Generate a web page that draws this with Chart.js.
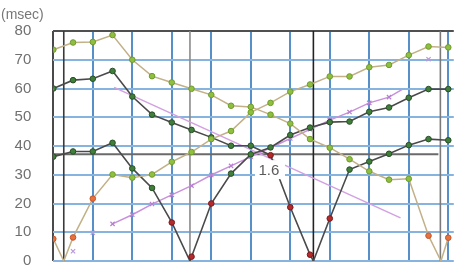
<!DOCTYPE html>
<html><head><meta charset="utf-8">
<script src="https://cdn.jsdelivr.net/npm/chart.js@4/dist/chart.umd.min.js"></script>
<style>
html,body{margin:0;padding:0;overflow:hidden;background:#fff;width:459px;height:277px}
#wrap{position:absolute;left:0;top:0;width:459px;height:292px}
</style>
</head><body><div id="wrap"><canvas id="c" width="459" height="292"></canvas></div>
<script>
// ---- data (x = sample index, y = msec) ----
const unitLabel = '(msec)';
const noteLabel = '1.6';
const noteAt = [10.92, 31.6];

const yTickValues = [0, 10, 20, 30, 40, 50, 60, 70, 80];

// olive series falling (ends with V to zero)
const aX = [0,1,2,3,4,5,6,7,8,9,10,11,12,13,14,15,16,17,18,19,19.63,20];
const aY = [73.5,76.0,76.2,78.6,70.0,64.3,62.1,59.9,57.8,54.0,53.6,50.9,47.8,42.4,39.4,35.4,31.2,28.3,28.6,8.8,0,8.1];
// olive series rising (starts with V to zero)
const bX = [0,0.53,1,2,3,4,5,6,7,8,9,10,11,12,13,14,15,16,17,18,19,20];
const bY = [7.7,0,8.2,21.7,30.1,29.0,30.1,34.5,37.9,42.4,45.2,51.7,55.0,58.9,61.4,64.2,64.2,67.4,68.2,71.6,74.6,74.3];
// dark series starting at 60
const cX = [0,1,2,3,4,5,6,7,8,9,10,11,12,13,13.17,14,15,16,17,18,19,20];
const cY = [60.0,62.9,63.4,66.1,57.2,50.9,48.2,45.6,43.0,40.1,40.1,36.8,18.7,2.2,0,14.8,31.8,34.6,37.3,40.3,42.4,42.0];
// dark series starting at 36
const dX = [0,1,2,3,4,5,6,6.92,7,8,9,10,11,12,13,14,15,16,17,18,19,20];
const dY = [36.3,38.1,38.1,41.1,32.2,25.4,13.4,0,1.5,20.0,30.4,37.1,39.5,43.8,46.4,48.3,48.5,51.9,53.4,56.8,59.8,59.8];
// purple trend rising (with x markers)
const puX = [3,4,5,6,7,8,9,10,11,12,13,14,15,16,17,17.67];
const puY = [12.9,16.1,19.8,23.0,26.2,29.9,33.1,36.3,39.4,42.6,45.8,49.0,51.8,55.0,57.0,59.7];
// purple trend falling
const pdX = [3.08, 17.58];
const pdY = [60.4, 15.0];
// stray purple markers
const pxX = [1, 2, 19];
const pxY = [3.4, 9.8, 70.2];

// reference lines
const zeroCross = [0.53, 6.92, 13.17, 19.6];
const refLevel = 37.1;
const refLevelEnd = 19.5;

// styling
const cRed = [11,12,13,15];   // data positions drawn red in series c
const dRed = [6,8,9];         // data positions drawn red in series d
const OL_FILL = '#8fbf3e', OL_BORDER = '#6f9a2c', OR_FILL = '#e8713c', OR_BORDER = '#c2552a';
const DG_FILL = '#3f7f3a', DG_BORDER = '#2a4d28', RD_FILL = '#b52a2a', RD_BORDER = '#7a1818';

function pts(xs, ys){ return xs.map((x,i)=>({x:x, y:ys[i]})); }
function oliveColors(ys, border){ return ys.map(v => v < 25 ? (border?OR_BORDER:OR_FILL) : (border?OL_BORDER:OL_FILL)); }
function darkColors(n, red, border){ return Array.from({length:n},(_,i)=> red.includes(i) ? (border?RD_BORDER:RD_FILL) : (border?DG_BORDER:DG_FILL)); }
function radii(ys){ return ys.map(v => v === 0 ? 0 : 2.8); }

const refPlugin = {
  id:'refs',
  beforeDatasetsDraw(chart){
    const {ctx, scales:{x,y}} = chart;
    ctx.save();
    ctx.strokeStyle = '#6a6a6a'; ctx.lineWidth = 2;
    ctx.beginPath(); ctx.moveTo(x.getPixelForValue(0), y.getPixelForValue(refLevel));
    ctx.lineTo(x.getPixelForValue(refLevelEnd), y.getPixelForValue(refLevel)); ctx.stroke();
    const cols = ['#3a3a3a','#8a8a8a','#222','#7a7a7a'];
    zeroCross.forEach((v,i)=>{
      ctx.strokeStyle = cols[i]; ctx.lineWidth = 1.6;
      ctx.beginPath(); ctx.moveTo(x.getPixelForValue(v), y.getPixelForValue(80));
      ctx.lineTo(x.getPixelForValue(v), y.getPixelForValue(0)); ctx.stroke();
    });
    ctx.restore();
  },
  afterDraw(chart){
    const {ctx, scales:{x,y}} = chart;
    ctx.save();
    ctx.font = '14px "Liberation Sans", Arial, sans-serif';
    ctx.fillStyle = '#777'; ctx.textBaseline = 'alphabetic'; ctx.textAlign = 'left';
    ctx.fillText(unitLabel, 1, 19);
    const px = x.getPixelForValue(noteAt[0]), py = y.getPixelForValue(noteAt[1]);
    ctx.fillStyle = '#fff'; ctx.fillRect(px-14, py-10, 30, 19);
    ctx.font = '15px "Liberation Sans", Arial, sans-serif';
    ctx.fillStyle = '#5a5a5a'; ctx.textAlign = 'center'; ctx.textBaseline = 'middle';
    ctx.fillText(noteLabel, px, py+1);
    ctx.restore();
  }
};

new Chart(document.getElementById('c'), {
  type:'line',
  data:{ datasets:[
    {data:pts(aX,aY), borderColor:'#c2b087', borderWidth:1.5, pointBackgroundColor:oliveColors(aY), pointBorderColor:oliveColors(aY,true), pointRadius:radii(aY), pointBorderWidth:1, tension:0},
    {data:pts(bX,bY), borderColor:'#c2b087', borderWidth:1.5, pointBackgroundColor:oliveColors(bY), pointBorderColor:oliveColors(bY,true), pointRadius:radii(bY), pointBorderWidth:1, tension:0},
    {data:pts(cX,cY), borderColor:'#4a4a4a', borderWidth:1.6, pointBackgroundColor:darkColors(cY.length,cRed), pointBorderColor:darkColors(cY.length,cRed,true), pointRadius:radii(cY), pointBorderWidth:1, tension:0},
    {data:pts(dX,dY), borderColor:'#4a4a4a', borderWidth:1.6, pointBackgroundColor:darkColors(dY.length,dRed), pointBorderColor:darkColors(dY.length,dRed,true), pointRadius:radii(dY), pointBorderWidth:1, tension:0},
    {data:pts(puX,puY), borderColor:'#c991dc', borderWidth:1.5, pointStyle:'crossRot', pointBorderColor:'#b77fd0', pointRadius:puY.map((v,i)=> i===puY.length-1?0:3), pointBorderWidth:1.2, tension:0},
    {data:pts(pdX,pdY), borderColor:'#d3a0e2', borderWidth:1.5, pointRadius:0, tension:0},
    {data:pts(pxX,pxY), showLine:false, pointStyle:'crossRot', pointBorderColor:'#b89ad8', pointRadius:3, pointBorderWidth:1.2}
  ]},
  options:{
    responsive:false, animation:false, devicePixelRatio:1,
    layout:{padding:{top:27.7, bottom:13.3, left:0, right:0}},
    plugins:{legend:{display:false}, tooltip:{enabled:false}},
    scales:{
      x:{type:'linear', min:0, max:20.28,
        afterBuildTicks(s){ s.ticks = [0,2,4,6,8,10,12,14,16,18,20].map(v=>({value:v})); },
        afterFit(s){ s.height = 0; },
        ticks:{display:false},
        border:{display:false},
        grid:{drawTicks:false, lineWidth:2, color:(c)=> c.tick && c.tick.value===0 ? '#4a4a4a' : '#5790c9'}
      },
      y:{type:'linear', min:0, max:80,
        afterBuildTicks(s){ s.ticks = yTickValues.map(v=>({value:v})); },
        afterFit(s){ s.width = 53.3; },
        border:{display:false},
        ticks:{padding:22, color:'#707070', font:{family:'"Liberation Sans", Arial, sans-serif', size:15}},
        grid:{drawTicks:false, lineWidth:2, color:(c)=> c.tick && c.tick.value===80 ? '#505050' : '#86b4de'}
      }
    }
  },
  plugins:[refPlugin]
});
</script>
</body></html>
